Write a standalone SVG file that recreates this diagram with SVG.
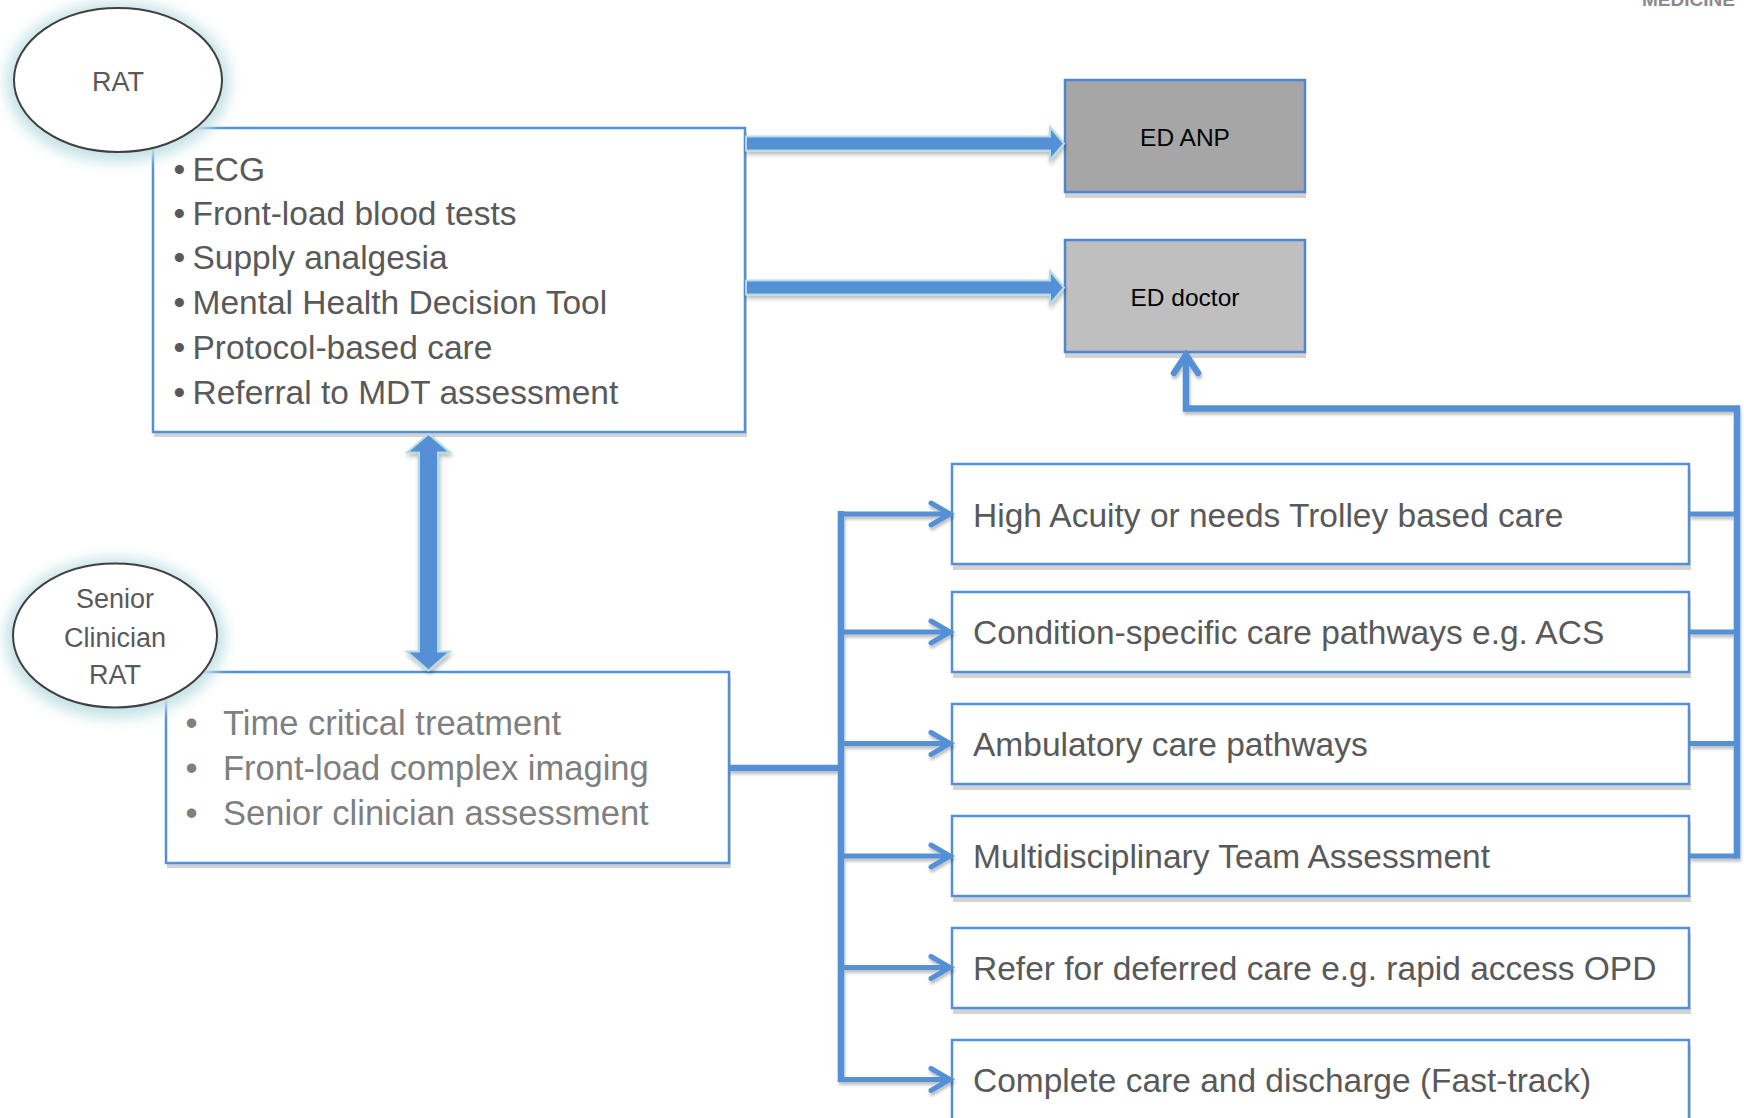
<svg xmlns="http://www.w3.org/2000/svg" width="1744" height="1118" viewBox="0 0 1744 1118">
<defs>
<style>
.box{fill:#ffffff;stroke:#5590d7;stroke-width:2.5}
.sh{fill:#d2d2d2}
.t{font-family:"Liberation Sans",Arial,sans-serif;font-size:33.5px;fill:#595959}
.t2{fill:#7f7f7f;font-size:34.5px}
.lbl{font-family:"Liberation Sans",Arial,sans-serif;font-size:27px;fill:#595959;text-anchor:middle}
.ed{font-family:"Liberation Sans",Arial,sans-serif;font-size:24.5px;fill:#000000;text-anchor:middle}
.ell{fill:#ffffff;stroke:#404040;stroke-width:2}
.glow{fill:#c4e2e6}
.ln{fill:none;stroke:#5590d7;stroke-linejoin:miter}
.block{fill:#5590d7;stroke:#b2dce5;stroke-width:2}
</style>
<filter id="blur" x="-30%" y="-30%" width="160%" height="160%"><feGaussianBlur stdDeviation="7"/></filter>
<filter id="ds" x="-5%" y="-20%" width="110%" height="140%"><feDropShadow dx="1" dy="3" stdDeviation="2" flood-color="#000" flood-opacity="0.28"/></filter>
<filter id="ds2" x="-5%" y="-5%" width="110%" height="110%"><feDropShadow dx="1" dy="3" stdDeviation="1.5" flood-color="#000" flood-opacity="0.25"/></filter>
</defs>
<rect width="1744" height="1118" fill="#ffffff"/>
<text x="1642" y="6" font-family="Liberation Sans,Arial,sans-serif" font-weight="bold" font-size="19" fill="#8a8a8a">MEDICINE</text>

<g id="box-rat-tasks">
<rect class="sh" x="154" y="133" width="593" height="304"/>
<rect class="box" x="153" y="128" width="592" height="304"/>
<text class="t" x="173.5" y="181">•</text><text class="t" x="192.5" y="181">ECG</text>
<text class="t" x="173.5" y="225">•</text><text class="t" x="192.5" y="225">Front-load blood tests</text>
<text class="t" x="173.5" y="269">•</text><text class="t" x="192.5" y="269">Supply analgesia</text>
<text class="t" x="173.5" y="314">•</text><text class="t" x="192.5" y="314">Mental Health Decision Tool</text>
<text class="t" x="173.5" y="359">•</text><text class="t" x="192.5" y="359">Protocol-based care</text>
<text class="t" x="173.5" y="404">•</text><text class="t" x="192.5" y="404">Referral to MDT assessment</text>
</g>

<g id="rat">
<ellipse class="glow" cx="118" cy="82" rx="112" ry="80" filter="url(#blur)"/>
<ellipse class="ell" cx="118" cy="80" rx="104" ry="72"/>
<text class="lbl" x="118" y="90.5">RAT</text>
</g>

<g id="box-senior-tasks">
<rect class="sh" x="167" y="677" width="564" height="191"/>
<rect class="box" x="166" y="672" width="563" height="191"/>
<text class="t t2" x="185.5" y="735">•</text><text class="t t2" x="223" y="735">Time critical treatment</text>
<text class="t t2" x="185.5" y="780">•</text><text class="t t2" x="223" y="780">Front-load complex imaging</text>
<text class="t t2" x="185.5" y="825">•</text><text class="t t2" x="223" y="825">Senior clinician assessment</text>
</g>

<g id="senior-rat">
<ellipse class="glow" cx="115" cy="638" rx="110" ry="80" filter="url(#blur)"/>
<ellipse class="ell" cx="115" cy="635.5" rx="102" ry="72"/>
<text class="lbl" x="115" y="608">Senior</text>
<text class="lbl" x="115" y="646.5">Clinician</text>
<text class="lbl" x="115" y="684">RAT</text>
</g>

<g id="ed-anp">
<rect class="sh" x="1065" y="86" width="241" height="112"/>
<rect x="1065" y="80" width="240" height="112" fill="#a6a6a6" stroke="#4f86cf" stroke-width="2.5"/>
<text class="ed" x="1185" y="146">ED ANP</text>
</g>

<g id="ed-doctor">
<rect class="sh" x="1065" y="246" width="241" height="112"/>
<rect x="1065" y="240" width="240" height="112" fill="#bfbfbf" stroke="#4f86cf" stroke-width="2.5"/>
<text class="ed" x="1185" y="306" font-size="25.5">ED doctor</text>
</g>

<g id="opt-high-acuity">
<rect class="sh" x="953" y="470" width="738" height="100"/>
<rect class="box" x="952" y="464" width="737" height="100"/>
<text class="t" x="973" y="527">High Acuity or needs Trolley based care</text>
</g>
<g id="opt-condition">
<rect class="sh" x="953" y="598" width="738" height="80"/>
<rect class="box" x="952" y="592" width="737" height="80"/>
<text class="t" x="973" y="643.5">Condition-specific care pathways e.g. ACS</text>
</g>
<g id="opt-ambulatory">
<rect class="sh" x="953" y="710" width="738" height="80"/>
<rect class="box" x="952" y="704" width="737" height="80"/>
<text class="t" x="973" y="755.5">Ambulatory care pathways</text>
</g>
<g id="opt-mdt">
<rect class="sh" x="953" y="822" width="738" height="80"/>
<rect class="box" x="952" y="816" width="737" height="80"/>
<text class="t" x="973" y="868">Multidisciplinary Team Assessment</text>
</g>
<g id="opt-refer">
<rect class="sh" x="953" y="934" width="738" height="80"/>
<rect class="box" x="952" y="928" width="737" height="80"/>
<text class="t" x="973" y="980">Refer for deferred care e.g. rapid access OPD</text>
</g>
<g id="opt-complete">
<rect class="sh" x="953" y="1046" width="738" height="80"/>
<rect class="box" x="952" y="1040" width="737" height="80"/>
<text class="t" x="973" y="1091.5">Complete care and discharge (Fast-track)</text>
</g>

<g id="connectors">
<g filter="url(#ds)">
<polygon class="block" points="746,136.5 1050,136.5 1050,127 1064,143.5 1050,160 1050,150.5 746,150.5"/>
<polygon class="block" points="746,280.5 1050,280.5 1050,271 1064,287.5 1050,304 1050,294.5 746,294.5"/>
<polygon class="block" points="428.5,434 450,452.5 438,452.5 438,651.5 450,651.5 428.5,670.5 407,651.5 419,651.5 419,452.5 407,452.5"/>
</g>
<g filter="url(#ds2)">
<path class="ln" stroke-width="6.5" d="M729,768 H841"/>
<path class="ln" stroke-width="6.5" d="M841,511 V1082"/>
<path class="ln" stroke-width="5" d="M841,514 H949 M841,632 H949 M841,743.5 H949 M841,856 H949 M841,967.5 H949 M841,1079.5 H949"/>
<path class="ln" stroke-width="5" stroke-linecap="round" d="M931,503 L950,514 L931,525 M931,621 L950,632 L931,643 M931,732.5 L950,743.5 L931,754.5 M931,845 L950,856 L931,867 M931,956.5 L950,967.5 L931,978.5 M931,1068.5 L950,1079.5 L931,1090.5"/>
<path class="ln" stroke-width="5" d="M1690,514 H1737 M1690,632 H1737 M1690,743.5 H1737 M1690,856 H1737"/>
<path class="ln" stroke-width="6.5" d="M1737,858.5 V408.5 H1186 V357"/>
<path class="ln" stroke-width="6.5" stroke-linecap="round" d="M1174,373 L1186,355 L1198,373"/>
</g>
</g>
</svg>
